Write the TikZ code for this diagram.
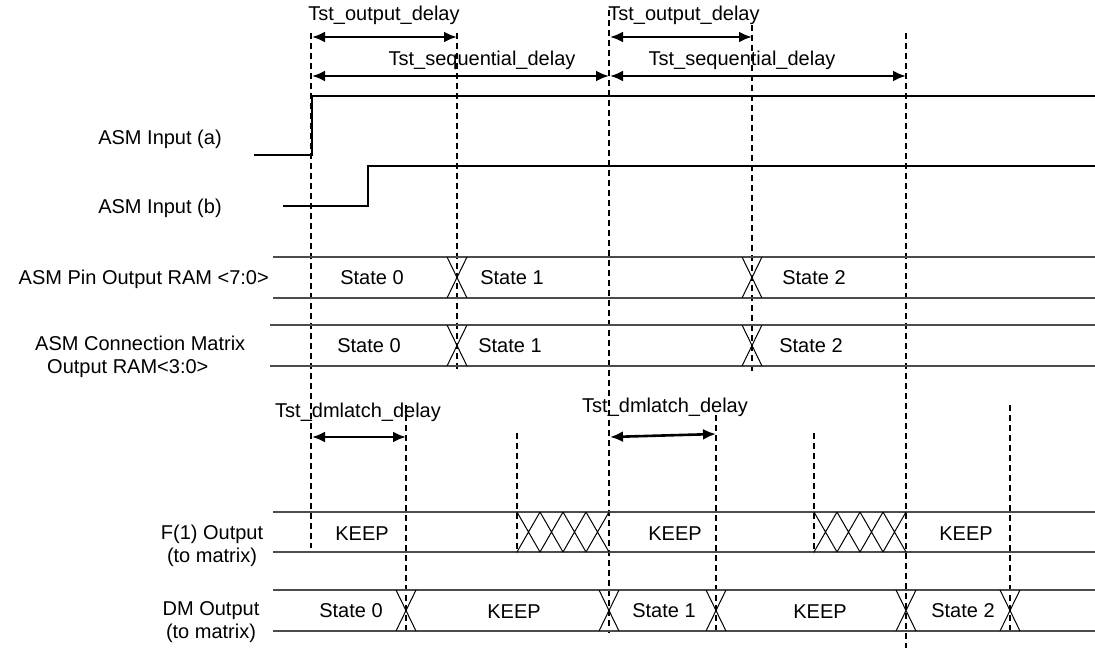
\documentclass[tikz,border=0pt]{standalone}
\usepackage{fontspec}
\setmainfont{Liberation Sans}
\usetikzlibrary{arrows.meta}

\begin{document}
\begin{tikzpicture}[
        x=1pt, y=-1pt,
        font=\fontsize{20}{23}\selectfont,
        lbl/.style={inner sep=0pt, align=center},
        wave/.style={line width=1.5pt},
        bus/.style={line width=1.5pt, draw=black!70},
        xing/.style={line width=1pt},
        timeline/.style={line width=2.4pt, dash pattern=on 6pt off 4pt},
        span/.style={{Latex[length=13pt,width=11pt]}-{Latex[length=13pt,width=11pt]}, line width=2.6pt}
    ]
    \useasboundingbox (0,0) rectangle (1095,648);

    % Signal names
    \node[lbl] (ina) at (160,139) {ASM Input (a)};
    \node[lbl] (inb) at (160,208) {ASM Input (b)};
    \node[lbl, anchor=east] (pinram) at (269,279) {ASM Pin Output RAM <7:0>};
    \node[lbl, align=left, anchor=west] (connram) at (35,357) {ASM Connection Matrix\\\hspace*{12pt}Output RAM<3:0>};
    \node[lbl] (fout) at (212,546) {F(1) Output\\(to matrix)};
    \node[lbl] (dmout) at (211,622) {DM Output\\(to matrix)};

    % Time marks
    \draw[timeline] (311,33) -- (311,548);
    \draw[timeline] (457,33) -- (457,372);
    \draw[timeline] (609,10) -- (609,633);
    \draw[timeline] (752,25) -- (752,372);
    \draw[timeline] (906,33) -- (906,648);
    \draw[timeline] (406,405) -- (406,632);
    \draw[timeline] (517,433) -- (517,553);
    \draw[timeline] (716,415) -- (716,632);
    \draw[timeline] (814,433) -- (814,553);
    \draw[timeline] (1010,405) -- (1010,632);

    % Inputs
    \draw[wave] (254,155) -- (312,155) -- (312,96) -- (1095,96);
    \draw[wave] (283,206) -- (368,206) -- (368,166) -- (1095,166);

    % Buses
    \draw[bus] (273,257) -- (1095,257) (273,298) -- (1095,298);
    \draw[bus] (270,325) -- (1095,325) (270,366) -- (1095,366);
    \draw[bus] (273,512) -- (1095,512) (273,552) -- (1095,552);
    \draw[bus] (273,590) -- (1095,590) (273,631) -- (1095,631);

    % Crossings
    \foreach \x in {457,752} {
        \draw[xing] ({\x-10},257) -- ({\x+10},298) ({\x-10},298) -- ({\x+10},257);
        \draw[xing] ({\x-10},325) -- ({\x+10},366) ({\x-10},366) -- ({\x+10},325);
    }
    \foreach \x in {406,609,716,906,1010}
        \draw[xing] ({\x-10},590) -- ({\x+10},631) ({\x-10},631) -- ({\x+10},590);
    \foreach \x in {517,540,563,586,814,837,860,883}
        \draw[xing] (\x,512) -- ({\x+23},552) (\x,552) -- ({\x+23},512);

    % Bus values
    \node[lbl] (pin0) at (372,278) {State 0};
    \node[lbl] (pin1) at (512,278) {State 1};
    \node[lbl] (pin2) at (814,278) {State 2};
    \node[lbl] (conn0) at (369,346) {State 0};
    \node[lbl] (conn1) at (510,346) {State 1};
    \node[lbl] (conn2) at (811,346) {State 2};
    \node[lbl] (keep1) at (362,534) {KEEP};
    \node[lbl] (keep2) at (675,534) {KEEP};
    \node[lbl] (keep3) at (966,534) {KEEP};
    \node[lbl] (dm0) at (351,611) {State 0};
    \node[lbl] (dmkeep1) at (514,612) {KEEP};
    \node[lbl] (dm1) at (664,611) {State 1};
    \node[lbl] (dmkeep2) at (820,612) {KEEP};
    \node[lbl] (dm2) at (963,611) {State 2};

    % Delays
    \node[lbl] (od1) at (384,15) {Tst\_output\_delay};
    \node[lbl] (od2) at (684,15) {Tst\_output\_delay};
    \node[lbl] (sd1) at (482,60) {Tst\_sequential\_delay};
    \node[lbl] (sd2) at (742,60) {Tst\_sequential\_delay};
    \node[lbl] (dl1) at (358,412) {Tst\_dmlatch\_delay};
    \node[lbl] (dl2) at (665,407) {Tst\_dmlatch\_delay};

    \coordinate (od1l) at (312,37);
    \coordinate (od1r) at (457,37);
    \coordinate (od2l) at (610,37);
    \coordinate (od2r) at (752,37);
    \coordinate (sd1l) at (312,76);
    \coordinate (sd1r) at (609,76);
    \coordinate (sd2l) at (610,76);
    \coordinate (sd2r) at (906,76);
    \coordinate (dl1l) at (312,437);
    \coordinate (dl1r) at (406,437);
    \coordinate (dl2l) at (610,437);
    \coordinate (dl2r) at (716,434);

    % Arrows
    \draw[span] (od1l) -- (od1r);
    \draw[span] (od2l) -- (od2r);
    \draw[span] (sd1l) -- (sd1r);
    \draw[span] (sd2l) -- (sd2r);
    \draw[span] (dl1l) -- (dl1r);
    \draw[span] (dl2l) -- (dl2r);

\end{tikzpicture}
\end{document}
